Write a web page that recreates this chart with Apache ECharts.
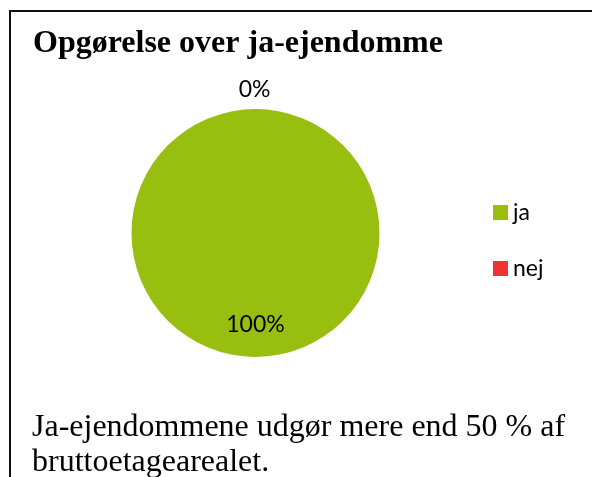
<!DOCTYPE html>
<html>
<head>
<meta charset="utf-8">
<script src="https://cdn.jsdelivr.net/npm/echarts@6/dist/echarts.min.js"></script>
<style>
html,body{margin:0;padding:0;background:#fff;}
#c{width:592px;height:477px;}
</style>
</head>
<body>
<div id="c"></div>
<script>
var titleText = 'Opgørelse over ja-ejendomme';
var noteText = 'Ja-ejendommene udgør mere end 50 % af\nbruttoetagearealet.';
var categories = ['ja', 'nej'];
var values = [100, 0];
var colors = ['#98BF0F', '#F03232'];

var chart = echarts.init(document.getElementById('c'), null, {renderer: 'canvas'});

// 'nej' (0%) placed first so its label sits at the top start angle
var order = [1, 0];
var pieData = order.map(function (i) {
  var isZero = values[i] === 0;
  return {
    name: categories[i],
    value: values[i],
    itemStyle: {color: colors[i]},
    label: isZero
      ? {position: 'outside', offset: [20, 0]}
      : {position: 'inside', offset: [0, 27]},
    labelLine: {show: false, length: 19, length2: 0}
  };
});

chart.setOption({
  animation: false,
  backgroundColor: '#fff',
  graphic: [{
    type: 'rect',
    shape: {x: 10, y: 11, width: 640, height: 520},
    style: {fill: 'none', stroke: '#111', lineWidth: 2},
    silent: true,
    z: 0
  }],
  title: [{
    text: titleText,
    left: 33,
    top: 28,
    padding: 0,
    textStyle: {fontFamily: 'Liberation Serif', fontWeight: 'bold', fontSize: 32, lineHeight: 32, color: '#000'}
  }, {
    text: noteText,
    left: 32,
    top: 410,
    padding: 0,
    textStyle: {fontFamily: 'Liberation Serif', fontWeight: 'normal', fontSize: 32, lineHeight: 35, color: '#000'}
  }],
  legend: {
    orient: 'vertical',
    left: 493,
    top: 201,
    padding: 0,
    itemWidth: 15,
    itemHeight: 15,
    itemGap: 33,
    icon: 'rect',
    data: categories,
    selectedMode: false,
    textStyle: {fontFamily: 'Lato', fontSize: 23, lineHeight: 15, color: '#000'}
  },
  series: [{
    type: 'pie',
    center: [255.5, 233],
    radius: 124,
    startAngle: 90,
    clockwise: true,
    avoidLabelOverlap: false,
    minShowLabelAngle: 0,
    silent: true,
    emphasis: {disabled: true},
    itemStyle: {borderWidth: 0},
    label: {
      show: true,
      formatter: '{d}%',
      fontFamily: 'Lato',
      fontSize: 23,
      color: '#000'
    },
    data: pieData
  }]
});
</script>
</body>
</html>
